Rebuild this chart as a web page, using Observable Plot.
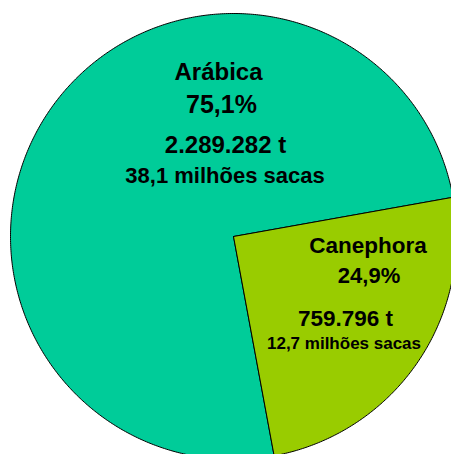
<!DOCTYPE html>
<html>
<head>
<meta charset="utf-8">
<script src="https://cdn.jsdelivr.net/npm/d3@7"></script>
<script src="https://cdn.jsdelivr.net/npm/@observablehq/plot@0.6"></script>
<style>
  html, body { margin: 0; padding: 0; background: #ffffff; overflow: hidden; }
  #chart svg { display: block; overflow: hidden; }
</style>
</head>
<body>
<div id="chart"></div>
<script>
// ---- data ----
const categories = ["Arábica", "Canephora"];
const percents = [75.1, 24.9];
const percentLabels = ["75,1%", "24,9%"];
const tonnes = ["2.289.282 t", "759.796 t"];
const bags = ["38,1 milhões sacas", "12,7 milhões sacas"];
const colors = ["#00CC99", "#99CC00"];

// ---- layout (pixel space) ----
const W = 451, H = 454;
const cx = 233, cy = 236, R = 223;
const startDeg = 169.5;

const pie = d3.pie().sort(null).value(d => d.v)
  .startAngle(startDeg * Math.PI / 180)
  .endAngle(startDeg * Math.PI / 180 + 2 * Math.PI);
const arcs = pie(categories.map((c, i) => ({name: c, v: percents[i]})));

const wedgePts = [];
arcs.forEach(a => {
  const name = a.data.name;
  wedgePts.push({name, x: cx, y: cy});
  const n = Math.max(2, Math.ceil((a.endAngle - a.startAngle) / (Math.PI / 360)));
  for (let k = 0; k <= n; k++) {
    const t = a.startAngle + (a.endAngle - a.startAngle) * k / n;
    wedgePts.push({name, x: cx + R * Math.sin(t), y: cy - R * Math.cos(t)});
  }
  wedgePts.push({name, x: cx, y: cy});
});

// label placement: [x, baseline y, font size]
const labelPos = [
  {title: [218, 79, 24], pct: [221, 112, 25], t: [225, 152, 24], b: [224.5, 182, 22]},
  {title: [367.5, 252, 22.5], pct: [368.5, 282, 22], t: [345, 325, 22.5], b: [343.5, 348, 17]}
];
const labels = [];
categories.forEach((c, i) => {
  const p = labelPos[i];
  labels.push({text: c, x: p.title[0], y: p.title[1], s: p.title[2]});
  labels.push({text: percentLabels[i], x: p.pct[0], y: p.pct[1], s: p.pct[2]});
  labels.push({text: tonnes[i], x: p.t[0], y: p.t[1], s: p.t[2]});
  labels.push({text: bags[i], x: p.b[0], y: p.b[1], s: p.b[2]});
});

const textMarks = [...new Set(labels.map(d => d.s))].map(s =>
  Plot.text(labels.filter(d => d.s === s), {
    x: "x", y: "y", text: "text",
    fontSize: s, fontWeight: "bold",
    fontFamily: "'Liberation Sans', Arial, sans-serif",
    fill: "#000", textAnchor: "middle", lineAnchor: "bottom"
  })
);

const chart = Plot.plot({
  width: W, height: H,
  margin: 0,
  x: {domain: [0, W], range: [0, W], axis: null},
  y: {domain: [0, H], range: [0, H], axis: null},
  color: {domain: categories, range: colors},
  style: {background: "#ffffff"},
  marks: [
    Plot.line(wedgePts, {
      x: "x", y: "y", z: "name",
      fill: "name", stroke: "#000", strokeWidth: 1,
      strokeLinejoin: "miter", curve: "linear"
    }),
    ...textMarks
  ]
});
document.getElementById("chart").appendChild(chart);
</script>
</body>
</html>
